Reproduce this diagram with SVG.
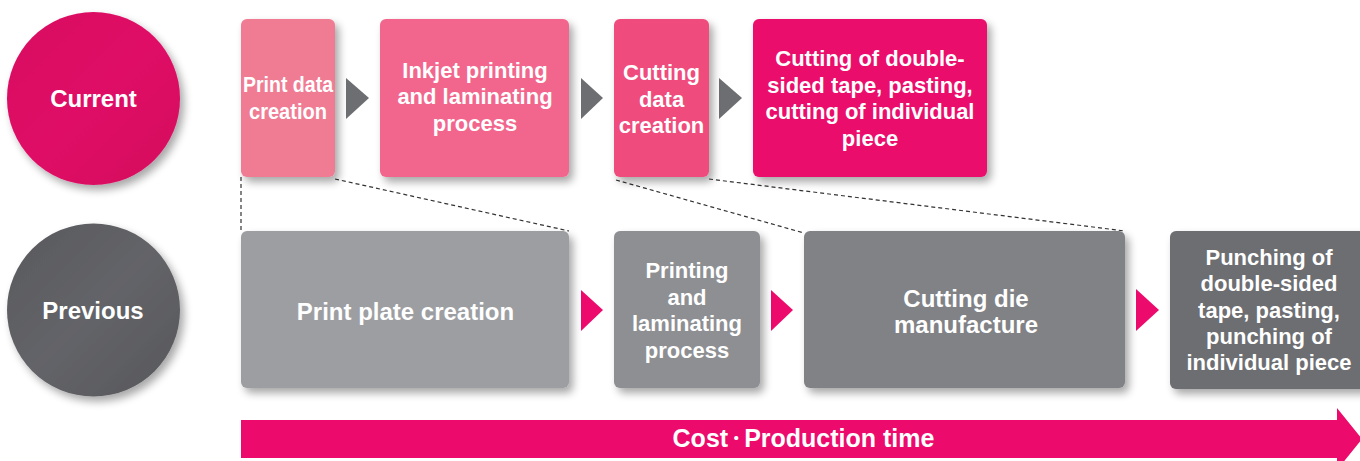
<svg xmlns="http://www.w3.org/2000/svg" width="1360" height="461" viewBox="0 0 1360 461">
<defs>
<filter id="sh" x="-20%" y="-20%" width="150%" height="150%">
<feGaussianBlur in="SourceAlpha" stdDeviation="4"/>
<feOffset dx="4" dy="5" result="b"/>
<feComponentTransfer><feFuncA type="linear" slope="0.35"/></feComponentTransfer>
<feMerge><feMergeNode/><feMergeNode in="SourceGraphic"/></feMerge>
</filter>
<linearGradient id="gCur" x1="0" y1="0" x2="1" y2="1">
<stop offset="0" stop-color="#D80C60"/><stop offset="0.5" stop-color="#DF0A66"/><stop offset="1" stop-color="#D40A5E"/>
</linearGradient>
<linearGradient id="gPrev" x1="0" y1="0" x2="1" y2="1">
<stop offset="0" stop-color="#58595D"/><stop offset="0.5" stop-color="#636468"/><stop offset="1" stop-color="#56575B"/>
</linearGradient>
<style>
text{font-family:"Liberation Sans",Arial,"Noto Sans CJK JP",sans-serif;font-weight:bold;fill:#fff;text-anchor:middle}
.t{font-size:22px}
.l{font-size:24px}
.dash{fill:none;stroke:#333;stroke-width:1.2;stroke-dasharray:4 3}
.ga{fill:#6D6E71}
.pa{fill:#EC0A6C}
</style>
</defs>
<rect width="1360" height="461" fill="#fff"/>

<g id="current">
<circle cx="93.5" cy="98.5" r="86.5" fill="url(#gCur)" filter="url(#sh)"/>
<text class="l" x="93.5" y="107">Current</text>
</g>
<g id="previous">
<circle cx="93.5" cy="310" r="86.5" fill="url(#gPrev)" filter="url(#sh)"/>
<text class="l" x="93" y="318.5">Previous</text>
</g>

<g id="connectors">
<path class="dash" d="M241,177 V231"/>
<path class="dash" d="M335,179 L569,231"/>
<path class="dash" d="M616,180 L804,233"/>
<path class="dash" d="M709,179 L1125,231"/>
<polygon class="ga" points="346,78 369,98 346,119"/>
<polygon class="ga" points="581,78 603,98 581,119"/>
<polygon class="ga" points="719,78 742,98 719,119"/>
<polygon class="pa" points="581,290 603,310 581,331"/>
<polygon class="pa" points="771,290 793,310 771,331"/>
<polygon class="pa" points="1136,289 1159,310 1136,331"/>
</g>

<g id="print-data-creation">
<rect x="241" y="19" width="94" height="158" rx="6" fill="#F07B94" filter="url(#sh)"/>
<text class="t" x="288" y="92" textLength="90" lengthAdjust="spacingAndGlyphs">Print data</text>
<text class="t" x="288" y="119" textLength="78" lengthAdjust="spacingAndGlyphs">creation</text>
</g>
<g id="inkjet">
<rect x="380" y="19" width="189" height="158" rx="6" fill="#F2668D" filter="url(#sh)"/>
<text class="t" x="475" y="78">Inkjet printing</text>
<text class="t" x="475" y="104">and laminating</text>
<text class="t" x="475" y="131">process</text>
</g>
<g id="cutting-data-creation">
<rect x="614" y="19" width="95" height="158" rx="6" fill="#EF4B7B" filter="url(#sh)"/>
<text class="t" x="661.5" y="80">Cutting</text>
<text class="t" x="661.5" y="107">data</text>
<text class="t" x="661.5" y="133">creation</text>
</g>
<g id="cutting-tape">
<rect x="753" y="19" width="234" height="158" rx="6" fill="#EB0A6C" filter="url(#sh)"/>
<text class="t" x="870" y="66">Cutting of double-</text>
<text class="t" x="870" y="93">sided tape, pasting,</text>
<text class="t" x="870" y="119">cutting of individual</text>
<text class="t" x="870" y="146">piece</text>
</g>

<g id="print-plate-creation">
<rect x="241" y="231" width="328" height="157" rx="6" fill="#9D9EA2" filter="url(#sh)"/>
<text class="l" x="405.5" y="319.5">Print plate creation</text>
</g>
<g id="printing-laminating">
<rect x="614" y="231" width="146" height="157" rx="6" fill="#8E8F93" filter="url(#sh)"/>
<text class="t" x="687" y="278">Printing</text>
<text class="t" x="687" y="305">and</text>
<text class="t" x="687" y="331">laminating</text>
<text class="t" x="687" y="358">process</text>
</g>
<g id="cutting-die">
<rect x="804" y="231" width="321" height="157" rx="6" fill="#818286" filter="url(#sh)"/>
<text class="l" x="966" y="306.5">Cutting die</text>
<text class="l" x="966" y="332.5">manufacture</text>
</g>
<g id="punching">
<rect x="1170" y="231" width="200" height="158" rx="6" fill="#6D6E72" filter="url(#sh)"/>
<text class="t" x="1269" y="265">Punching of</text>
<text class="t" x="1269" y="291">double-sided</text>
<text class="t" x="1269" y="318">tape, pasting,</text>
<text class="t" x="1269" y="344">punching of</text>
<text class="t" x="1269" y="370">individual piece</text>
</g>

<g id="cost-arrow">
<polygon points="241,420 1337,420 1337,408 1362,439 1337,470 1337,458 241,458" fill="#EC0A6C"/>
<text x="803.5" y="447" style="font-size:25px">Cost<tspan dy="-3" style="font-size:16px">・</tspan><tspan dy="3">Production time</tspan></text>
</g>
</svg>
